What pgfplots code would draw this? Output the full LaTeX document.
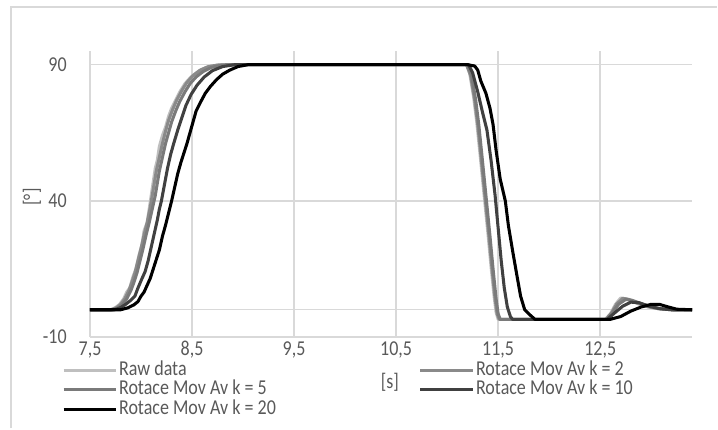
\documentclass[border=0pt]{standalone}
\usepackage{fontspec}
\setmainfont{Carlito}[FakeStretch=0.85]
\usepackage{pgfplots}
\pgfplotsset{compat=1.18}
\definecolor{txt}{HTML}{595959}
\definecolor{grd}{HTML}{D9D9D9}
\definecolor{raw}{HTML}{BFBFBF}
\definecolor{ktwo}{HTML}{8A8A8A}
\definecolor{kfive}{HTML}{7A7A7A}
\definecolor{kten}{HTML}{404040}
\newcommand{\fnt}{\fontsize{11.8pt}{14pt}\selectfont}
\pgfplotsset{legend image code/.code={\draw[#1] (0pt,0pt) -- (29.5pt,0pt);}}
\begin{document}
\begin{tikzpicture}
\useasboundingbox (-50.14pt,-51.81pt) rectangle (349.86pt,187.74pt);
\draw[grd, line width=0.8pt] (-44.0pt,-50.7pt) -- (-44.0pt,183.8pt) -- (349.3pt,183.8pt);
\begin{axis}[
 at={(0pt,0pt)}, anchor=south west,
 scale only axis, width=335.4pt, height=159.3pt,
 xmin=7.5, xmax=13.4, ymin=-10, ymax=95,
 xtick={7.5,8.5,9.5,10.5,11.5,12.5},
 xticklabels={{7,5},{8,5},{9,5},{10,5},{11,5},{12,5}},
 ytick={-10,40,90}, yticklabels={-10,40,90},
 extra y ticks={0}, extra y tick labels={},
 extra y tick style={grid=major, major grid style={grd, line width=0.8pt}},
 grid=major, major grid style={grd, line width=0.8pt},
 axis line style={draw=none}, major tick length=0pt,
 tick label style={text=txt, font=\fnt},
 xticklabel style={anchor=base, inner sep=0pt, yshift=-10.3pt},
 yticklabel style={anchor=east, inner sep=0pt, xshift=-12.8pt},
 legend columns=2, legend cell align=left,
 legend style={at={(-0.0465,-0.0832)}, anchor=north west, draw=none, fill=none,
   inner sep=0pt, outer sep=0pt, column sep=0.6pt, row sep=0.6pt,
   nodes={inner sep=0pt, text height=8pt, text depth=2.3pt, text=txt, font=\fnt},
   /tikz/every even column/.append style={column sep=79.7pt}},
 every axis plot/.append style={line width=1.7pt, line join=round},
]
\addplot[raw] coordinates {(7.5,0) (7.70,0) (7.75,0.8) (7.79,2) (7.83,4) (7.86,6.5) (7.89,8) (7.92,12) (7.95,15) (7.98,20) (8.01,24) (8.03,29) (8.06,32) (8.08,37) (8.10,42) (8.12,47) (8.14,52) (8.16,55) (8.18,60) (8.21,64) (8.24,67) (8.27,71) (8.30,74) (8.34,77) (8.38,80) (8.43,83) (8.49,85.5) (8.56,87.5) (8.64,89) (8.74,89.8) (8.85,90) (11.19,90) (11.22,87) (11.26,78) (11.29,69) (11.32,58) (11.36,43) (11.40,28) (11.43,16) (11.46,5) (11.48,-1) (11.50,-3.5) (12.55,-3.5) (12.60,-1.5) (12.65,2) (12.70,4.3) (12.76,4) (12.85,2.5) (12.95,1.2) (13.05,0.5) (13.2,0) (13.4,0)};
\addlegendentry{Raw data}
\addplot[ktwo] coordinates {(7.5,0) (7.71,0) (7.76,0.8) (7.80,2) (7.84,4) (7.88,7) (7.91,10) (7.94,13.5) (7.97,18) (8.00,22.5) (8.03,27.5) (8.06,32) (8.09,37.5) (8.11,42) (8.13,46.5) (8.15,51) (8.18,56) (8.21,61) (8.24,65.5) (8.27,69.5) (8.31,73.5) (8.35,77) (8.40,80.5) (8.45,83.5) (8.51,86) (8.58,88) (8.66,89.3) (8.76,89.9) (8.87,90) (11.19,90) (11.23,86) (11.27,77) (11.30,68) (11.33,57) (11.37,42) (11.41,27) (11.44,15) (11.47,4) (11.49,-1.5) (11.51,-3.5) (12.56,-3.5) (12.61,-1.2) (12.66,2) (12.72,4.2) (12.78,3.8) (12.87,2.4) (12.97,1.1) (13.07,0.4) (13.2,0) (13.4,0)};
\addlegendentry{Rotace Mov Av k = 2}
\addplot[kfive] coordinates {(7.5,0) (7.72,0) (7.78,0.8) (7.82,2) (7.86,4) (7.90,7) (7.93,10) (7.96,13.5) (7.99,18) (8.02,22.5) (8.05,27.5) (8.08,32) (8.11,37) (8.14,42) (8.16,46.5) (8.18,51) (8.21,56) (8.24,61) (8.27,65) (8.30,69) (8.34,73) (8.38,76.5) (8.43,80) (8.48,83) (8.54,85.5) (8.61,87.5) (8.69,89) (8.79,89.8) (8.90,90) (11.20,90) (11.24,86) (11.28,77) (11.31,68) (11.34,57) (11.38,42) (11.42,27) (11.45,15) (11.48,4) (11.50,-1.5) (11.52,-3.5) (12.56,-3.5) (12.62,-1) (12.68,2) (12.75,3.8) (12.81,3.5) (12.90,2.3) (13.00,1.1) (13.10,0.4) (13.22,0) (13.4,0)};
\addlegendentry{Rotace Mov Av k = 5}
\addplot[kten] coordinates {(7.5,0) (7.74,0) (7.80,0.8) (7.85,2) (7.90,3.5) (7.94,5) (7.97,8) (8.01,11.5) (8.04,14) (8.07,18) (8.10,23) (8.13,28) (8.16,33) (8.18,37) (8.20,40) (8.23,46) (8.26,52) (8.29,57) (8.32,61) (8.36,66) (8.40,70.5) (8.44,75) (8.49,79) (8.55,82.5) (8.62,85.5) (8.70,87.8) (8.80,89.3) (8.92,90) (11.21,90) (11.25,87) (11.30,80) (11.35,72) (11.39,66) (11.43,55) (11.47,42) (11.50,30) (11.53,18) (11.56,8) (11.59,1) (11.62,-2.5) (11.64,-3.5) (12.57,-3.5) (12.64,-1.2) (12.72,1.3) (12.80,2.8) (12.88,2.6) (12.97,1.4) (13.08,0.4) (13.2,0) (13.4,0)};
\addlegendentry{Rotace Mov Av k = 10}
\addplot[black] coordinates {(7.5,0) (7.80,0) (7.87,0.7) (7.93,1.8) (7.97,3) (8.00,5) (8.03,6.5) (8.06,9) (8.09,11.5) (8.12,15) (8.15,18.5) (8.18,22) (8.21,27) (8.24,31) (8.27,35.5) (8.30,40) (8.33,45) (8.36,50) (8.39,54) (8.42,57.5) (8.45,61) (8.48,65) (8.51,69) (8.54,73) (8.58,76) (8.63,79.5) (8.68,82) (8.74,84.5) (8.80,86.5) (8.87,88) (8.95,89.3) (9.05,90) (11.20,90) (11.27,89.5) (11.30,88) (11.33,84) (11.38,79.5) (11.42,74) (11.45,68) (11.48,58.5) (11.52,48) (11.57,40) (11.60,31) (11.64,22) (11.68,13.4) (11.72,5) (11.76,0) (11.80,-1.5) (11.83,-2.5) (11.86,-3.5) (12.60,-3.5) (12.70,-2.5) (12.80,-0.5) (12.90,1) (13.00,2) (13.08,2) (13.15,1.2) (13.25,0.2) (13.4,0)};
\addlegendentry{Rotace Mov Av k = 20}
\end{axis}
\node[text=txt, rotate=90, font=\fnt] at (-32.3pt,78.0pt) {[°]};
\node[text=txt, font=\fnt] at (167.1pt,-25.1pt) {[s]};
\end{tikzpicture}
\end{document}
